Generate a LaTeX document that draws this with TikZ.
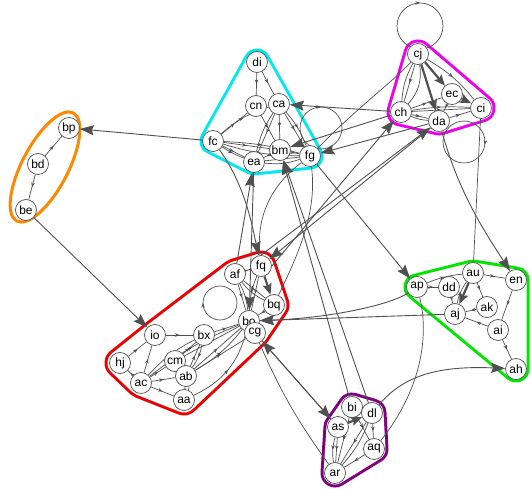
\documentclass[tikz,border=0pt]{standalone}
\usepackage{fontspec}
\setmainfont{Liberation Sans}
\usetikzlibrary{arrows.meta,decorations.markings,calc}
\pgfdeclarelayer{hulls}
\pgfdeclarelayer{edges}
\pgfsetlayers{hulls,edges,main}
\definecolor{edgec}{HTML}{505050}
\definecolor{hcyan}{HTML}{00E8F0}
\definecolor{hmag}{HTML}{EE00EE}
\definecolor{horange}{HTML}{FF8800}
\definecolor{hred}{HTML}{EE0000}
\definecolor{hgreen}{HTML}{00E600}
\definecolor{hpurple}{HTML}{800080}
\newcommand\grouphull[4]{%
  \draw[#1,line width=#2,line join=round] #4;
  \draw[white,fill=white,line width=#3,line join=round] #4;}
\begin{document}
\begin{tikzpicture}[x=1pt,y=-1pt,
  vx/.style={circle,draw=edgec,fill=white,line width=0.7pt,minimum size=21pt,inner sep=0pt,font=\fontsize{12}{12}\selectfont},
  ed/.style={draw=edgec,line width=0.7pt},
  ma/.style={postaction={decorate},decoration={markings,mark=at position #1 with {\arrow{Stealth[length=4.5pt,width=3.5pt]}}}},
  ma/.default=0.5,
  big/.style={line width=0.9pt,-{Stealth[length=14pt,width=10pt,inset=2pt]}},
  thk/.style={line width=2.2pt,-{Stealth[length=11pt,width=9pt,inset=2pt]}},
]
\useasboundingbox (0,0) rectangle (531,489);
% nodes
\node[vx] (di) at (257,62) {di};
\node[vx] (cn) at (256,106) {cn};
\node[vx] (ca) at (279,104) {ca};
\node[vx] (fc) at (213,141) {fc};
\node[vx] (bm) at (280,150) {bm};
\node[vx] (ea) at (254,162) {ea};
\node[vx] (fg) at (310,156) {fg};
\node[vx] (cj) at (418,54) {cj};
\node[vx] (ec) at (452,94) {ec};
\node[vx] (ci) at (481,108) {ci};
\node[vx] (ch) at (401,112) {ch};
\node[vx] (da) at (439,121) {da};
\node[vx] (bp) at (69,128) {bp};
\node[vx] (bd) at (38,164) {bd};
\node[vx] (be) at (26,210) {be};
\node[vx] (af) at (235,274) {af};
\node[vx] (fq) at (261,266) {fq};
\node[vx] (bq) at (274,305) {bq};
\node[vx] (bo) at (249,321) {bo};
\node[vx] (cg) at (255,333) {cg};
\node[vx] (io) at (155,335) {io};
\node[vx] (bx) at (204,335) {bx};
\node[vx] (hj) at (120,363) {hj};
\node[vx] (cm) at (175,361) {cm};
\node[vx] (ab) at (186,376) {ab};
\node[vx] (ac) at (141,383) {ac};
\node[vx] (aa) at (184,400) {aa};
\node[vx] (ap) at (417,287) {ap};
\node[vx] (dd) at (449,287) {dd};
\node[vx] (au) at (473,273) {au};
\node[vx] (en) at (516,280) {en};
\node[vx] (ak) at (487,307) {ak};
\node[vx] (aj) at (455,314) {aj};
\node[vx] (ai) at (498,330) {ai};
\node[vx] (ah) at (516,369) {ah};
\node[vx] (bi) at (352,407) {bi};
\node[vx] (dl) at (372,413) {dl};
\node[vx] (as) at (338,427) {as};
\node[vx] (aq) at (374,449) {aq};
\node[vx] (ar) at (335,473) {ar};
% group hulls
\begin{pgfonlayer}{hulls}
\grouphull{hcyan}{27pt}{21pt}{(di.center)--(fg.center)--(ea.center)--(fc.center)--cycle}
\grouphull{hmag}{29pt}{23pt}{(cj.center)--(ci.center)--(da.center)--(ch.center)--cycle}
\grouphull{hred}{31pt}{25pt}{(fq.center)--(bq.center)--(cg.center)--(aa.center)--(ac.center)--(hj.center)--(io.center)--(af.center)--cycle}
\grouphull{hgreen}{27pt}{21pt}{(ap.center)--(au.center)--(en.center)--(ah.center)--cycle}
\grouphull{hpurple}{29pt}{23pt}{(bi.center)--(dl.center)--(aq.center)--(ar.center)--(as.center)--cycle}
\draw[horange,line width=3pt,shift={(45,167)},rotate=62.4] (0,0) ellipse[x radius=61,y radius=23];
\end{pgfonlayer}
\begin{pgfonlayer}{edges}
% self loops
\draw[ed,ma=0.75] ($(cj)+(2,-28)$) circle[radius=23];
\draw[ed,ma=0.75] ($(fg)+(11,-28)$) circle[radius=21];
\draw[ed,ma=0.02] ($(da)+(25,21)$) circle[radius=21];
\draw[ed,ma=0.5] ($(bo)+(-29,-18)$) circle[radius=17];
% cyan group
\draw[ed,ma] (di) -- (cn);
\draw[ed,ma] (di) -- (ca);
\draw[ed,ma] (fc) -- (cn);
\draw[ed,ma] (fc) to[bend left=12] (ca);
\draw[ed,ma] (fc) -- (bm);
\draw[ed,ma] (fc) -- (ea);
\draw[ed,ma] (fc) to[bend right=6] (ea);
\draw[ed,ma] (fc) to[bend left=6] (fg);
\draw[ed,ma] (fc) to[bend right=8] (fg);
\draw[ed,ma] (ca) -- (ea);
\draw[ed] (ca) to[bend right=10] (ea);
\draw[ed,ma] (ca) -- (bm);
\draw[ed,ma] (ca) -- (fg);
\draw[ed,ma] (ca) to[bend left=10] (fg);
\draw[ed,ma] (cn) -- (bm);
\draw[ed,ma] (ea) -- (fg);
\draw[ed,ma] (bm) -- (ea);
\draw[ed,ma] (bm) -- (fg);
\draw[ed] (ea) to[bend right=12] (fg);
% magenta group
\draw[ed,ma] (cj) -- (ch);
\draw[ed] (cj) to[bend right=12] (ch);
\draw[ed,thk] (cj) -- (da);
\draw[ed,thk] (cj) -- (ec);
\draw[ed,ma] (cj) to[bend left=10] (ci);
\draw[ed,ma] (ch) -- (ec);
\draw[ed,ma] (ch) -- (ci);
\draw[ed,ma] (ch) to[bend left=6] (ci);
\draw[ed,ma] (ch) -- (da);
\draw[ed] (ch) to[bend right=10] (da);
\draw[ed,ma] (da) -- (ci);
\draw[ed,thk] (ec) -- (ci);
\draw[ed,ma] (ec) -- (da);
\draw[ed] (cj) to[bend left=25] (ch);
% orange group
\draw[ed,ma] (bd) -- (bp);
\draw[ed,ma] (bd) -- (be);
% red group
\draw[ed,ma] (io) -- (bx);
\draw[ed,ma] (hj) -- (io);
\draw[ed,ma] (ac) -- (io);
\draw[ed,ma] (ac) -- (hj);
\draw[ed,ma] (ac) -- (cm);
\draw[ed,ma] (ac) -- (ab);
\draw[ed,ma] (ac) -- (aa);
\draw[ed,ma] (ac) to[bend left=10] (bx);
\draw[ed,ma] (cm) -- (bx);
\draw[ed,ma] (ab) -- (bx);
\draw[ed,ma] (bx) to[bend left=12] (ab);
\draw[ed,ma] (cm) -- (ab);
\draw[ed,ma] (aa) -- (ab);
\draw[ed] (ab) to[bend left=20] (aa);
\draw[ed,ma] (bx) -- (bo);
\draw[ed,ma] (cm) -- (bo);
\draw[ed,ma] (ab) -- (bo);
\draw[ed,ma] (ab) to[bend right=10] (bo);
\draw[ed,ma] (aa) to[bend right=25] (bo);
\draw[ed,ma] (ab) -- (cg);
\draw[ed,ma] (ac) to[bend left=8] (bo);
\draw[ed,ma] (af) -- (bo);
\draw[ed] (af) to[bend left=10] (bo);
\draw[ed,ma] (fq) -- (bo);
\draw[ed,ma] (fq) to[bend right=10] (bo);
\draw[ed,ma] (af) -- (bq);
\draw[ed,thk] (fq) -- (bq);
\draw[ed,ma] (bq) -- (bo);
\draw[ed,ma] (af) -- (fq);
\draw[ed] (af) to[bend right=12] (bq);
% green group
\draw[ed,ma] (ap) -- (dd);
\draw[ed,ma] (ap) to[bend left=8] (au);
\draw[ed,ma] (au) -- (en);
\draw[ed,ma] (au) -- (ak);
\draw[ed,thk] (au) -- (aj);
\draw[ed,ma] (dd) -- (aj);
\draw[ed,ma] (ak) -- (aj);
\draw[ed,ma] (ai) -- (aj);
\draw[ed,ma] (en) -- (ai);
\draw[ed,ma] (ai) -- (ah);
\draw[ed,ma] (aj) to[bend left=12] (au);
% purple group
\draw[ed,ma] (as) -- (ar);
\draw[ed,ma] (as) to[bend right=12] (ar);
\draw[ed,thk] (as) -- (dl);
\draw[ed,ma] (dl) -- (ar);
\draw[ed] (dl) to[bend left=10] (ar);
\draw[ed,ma] (dl) -- (aq);
\draw[ed,ma] (aq) -- (ar);
\draw[ed,ma] (bi) -- (aq);
\draw[ed,ma] (bi) -- (ar);
% between groups
\draw[ed,big] (fc) -- (bp);
\draw[ed,big] (be) -- (io);
\draw[ed,big] (fg) -- (ap);
\draw[ed,big] (fq.east) -- (ch);
\draw[ed,big] (fq.north) -- (da);
\draw[ed,big] (da) -- (fq);
\draw[ed,big] (ch) -- (ca);
\draw[ed,big] (ch) -- (bm);
\draw[ed,big] (da) -- (fg);
\draw[ed] (cj) .. controls (395,80) and (360,105) .. (fg);
\draw[ed,big] (fc) .. controls (245,185) and (252,225) .. (fq);
\draw[ed] (fg) .. controls (272,185) and (256,215) .. (fq);
\draw[ed,big] (ea) -- (bo);
\draw[ed,big] (af) -- (ea);
\draw[ed] (bq) .. controls (295,260) and (318,215) .. (fg);
\draw[ed,big] (bi) -- (bm);
\draw[ed,big] (dl) -- (bm);
\draw[ed,big] (cg) -- (as);
\draw[ed,big] (as) -- (cg);
\draw[ed] (cg) to[bend right=6] (ar);
\draw[ed,big] (ap) .. controls (390,305) and (330,318) .. (bo);
\draw[ed,big] (aj) -- (bo);
\draw[ed] (ap) .. controls (428,330) and (425,385) .. (aq);
\draw[ed,big] (dl) .. controls (400,380) and (430,365) .. (ah);
\draw[ed] (ci) -- (au);
\draw[ed,big] (da) .. controls (458,190) and (482,228) .. (en);
\end{pgfonlayer}
\end{tikzpicture}
\end{document}
